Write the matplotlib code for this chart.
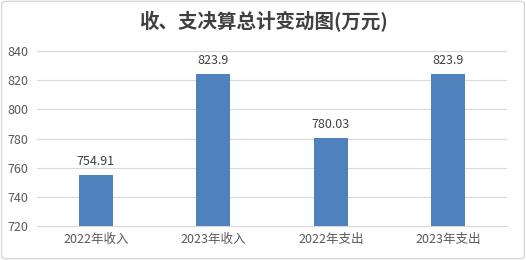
import matplotlib
matplotlib.use("Agg")
import matplotlib.pyplot as plt
from matplotlib.patches import FancyBboxPatch

plt.rcParams['font.family'] = ['Noto Sans CJK SC', 'DejaVu Sans']

categories = ["2022年收入", "2023年收入", "2022年支出", "2023年支出"]
values = [754.91, 823.9, 780.03, 823.9]
labels = ["754.91", "823.9", "780.03", "823.9"]
title = "收、支决算总计变动图(万元)"

fig = plt.figure(figsize=(5.26, 2.6), dpi=100)
ax = fig.add_axes([37/526, 1-226/260, 470/526, 175/260])

x = range(len(categories))
ax.bar(x, values, width=0.29, color="#4F81BD", zorder=3)
for xi, v, lab in zip(x, values, labels):
    ax.text(xi, v + 5, lab, ha="center", va="bottom", fontsize=9, color="#404040")

ax.set_ylim(720, 840)
ax.set_xlim(-0.5, 3.5)
ax.set_yticks(range(720, 841, 20))
ax.set_xticks(list(x))
ax.set_xticklabels(categories)
ax.tick_params(axis="both", length=0, labelsize=9, colors="#595959")
ax.tick_params(axis="y", pad=6)
ax.tick_params(axis="x", pad=5)
ax.grid(axis="y", color="#D9D9D9", linewidth=0.8, zorder=0)
for s in ["top", "right", "left"]:
    ax.spines[s].set_visible(False)
ax.spines["bottom"].set_color("#D9D9D9")

fig.text(0.5, 1-22/260, title, ha="center", va="center", fontsize=14,
         fontweight="bold", color="#404040")

border = FancyBboxPatch((0.003, 0.005), 0.994, 0.99, boxstyle="round,pad=0,rounding_size=0.01",
                        transform=fig.transFigure, fill=False, edgecolor="#D9D9D9", linewidth=1)
fig.patches.append(border)

fig.savefig("out.png", dpi=100)
